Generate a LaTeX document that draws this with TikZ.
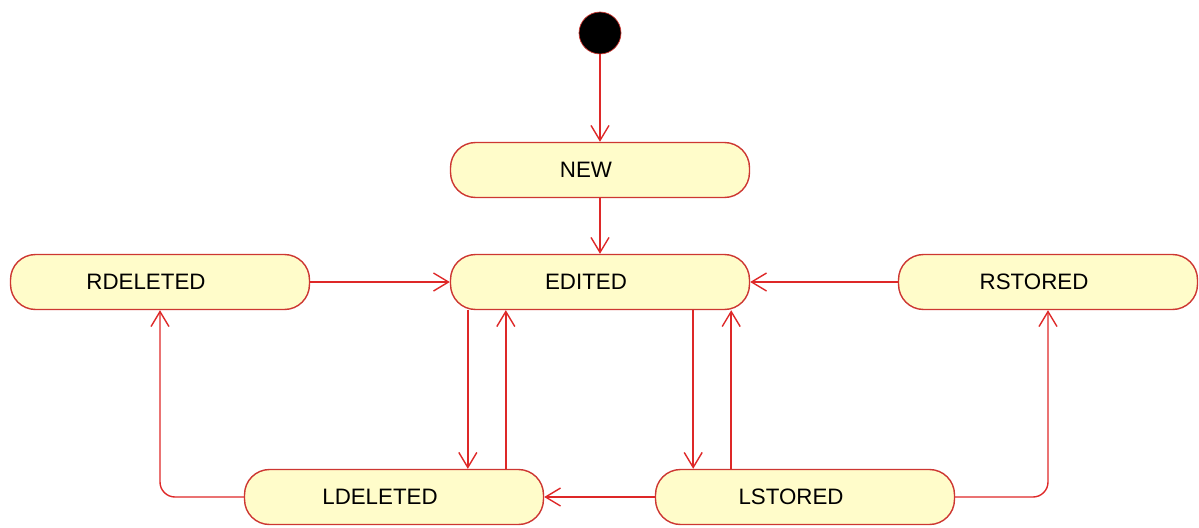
\documentclass[tikz,border=0pt]{standalone}
\usepackage{fontspec}
\setmainfont{Liberation Sans}
\usetikzlibrary{arrows.meta}

\definecolor{edge}{RGB}{222,40,40}
\definecolor{rim}{RGB}{205,55,50}
\definecolor{pad}{RGB}{255,252,202}

\tikzset{
    state/.style = {draw = rim, fill = pad, line width = 0.8pt, rounded corners = 0.5cm,
        minimum width = 5.98cm, minimum height = 1.1cm,
        font = \fontsize{12.7}{15}\selectfont, execute at begin node = \hspace*{-0.56cm}},
    arr/.style = {draw = edge, line width = 0.8pt, -{Straight Barb[length = 0.3cm, width = 0.36cm]}}
}

\begin{document}
\begin{tikzpicture}[x = 0.02cm, y = -0.02cm]
    \useasboundingbox (0, 0) rectangle (1199, 527);

    \node[circle, fill = black, draw = rim, minimum size = 0.84cm, inner sep = 0] (init) at (600, 33) {};
    \node[state] (new) at (600, 170) {NEW};
    \node[state] (edited) at (600, 282) {EDITED};
    \node[state] (rdel) at (160, 282) {RDELETED};
    \node[state] (rsto) at (1048, 282) {RSTORED};
    \node[state] (ldel) at (394, 497) {LDELETED};
    \node[state] (lsto) at (805, 497) {LSTORED};

    \draw[arr] (init) -- (new);
    \draw[arr] (new) -- (edited);
    \draw[arr] (rdel) -- (edited);
    \draw[arr] (rsto) -- (edited);

    \coordinate (a) at ([xshift = 0.36cm]edited.south west);
    \coordinate (b) at ([xshift = 1.12cm]edited.south west);
    \coordinate (c) at ([xshift = -1.14cm]edited.south east);
    \coordinate (d) at ([xshift = -0.38cm]edited.south east);

    \draw[arr] (a) -- (a |- ldel.north);
    \draw[arr] (b |- ldel.north) -- (b);
    \draw[arr] (c) -- (c |- lsto.north);
    \draw[arr] (d |- lsto.north) -- (d);

    \draw[arr] (lsto) -- (ldel);
    \draw[arr, rounded corners = 0.3cm] (ldel.west) -| (rdel.south);
    \draw[arr, rounded corners = 0.3cm] (lsto.east) -| (rsto.south);
\end{tikzpicture}
\end{document}
